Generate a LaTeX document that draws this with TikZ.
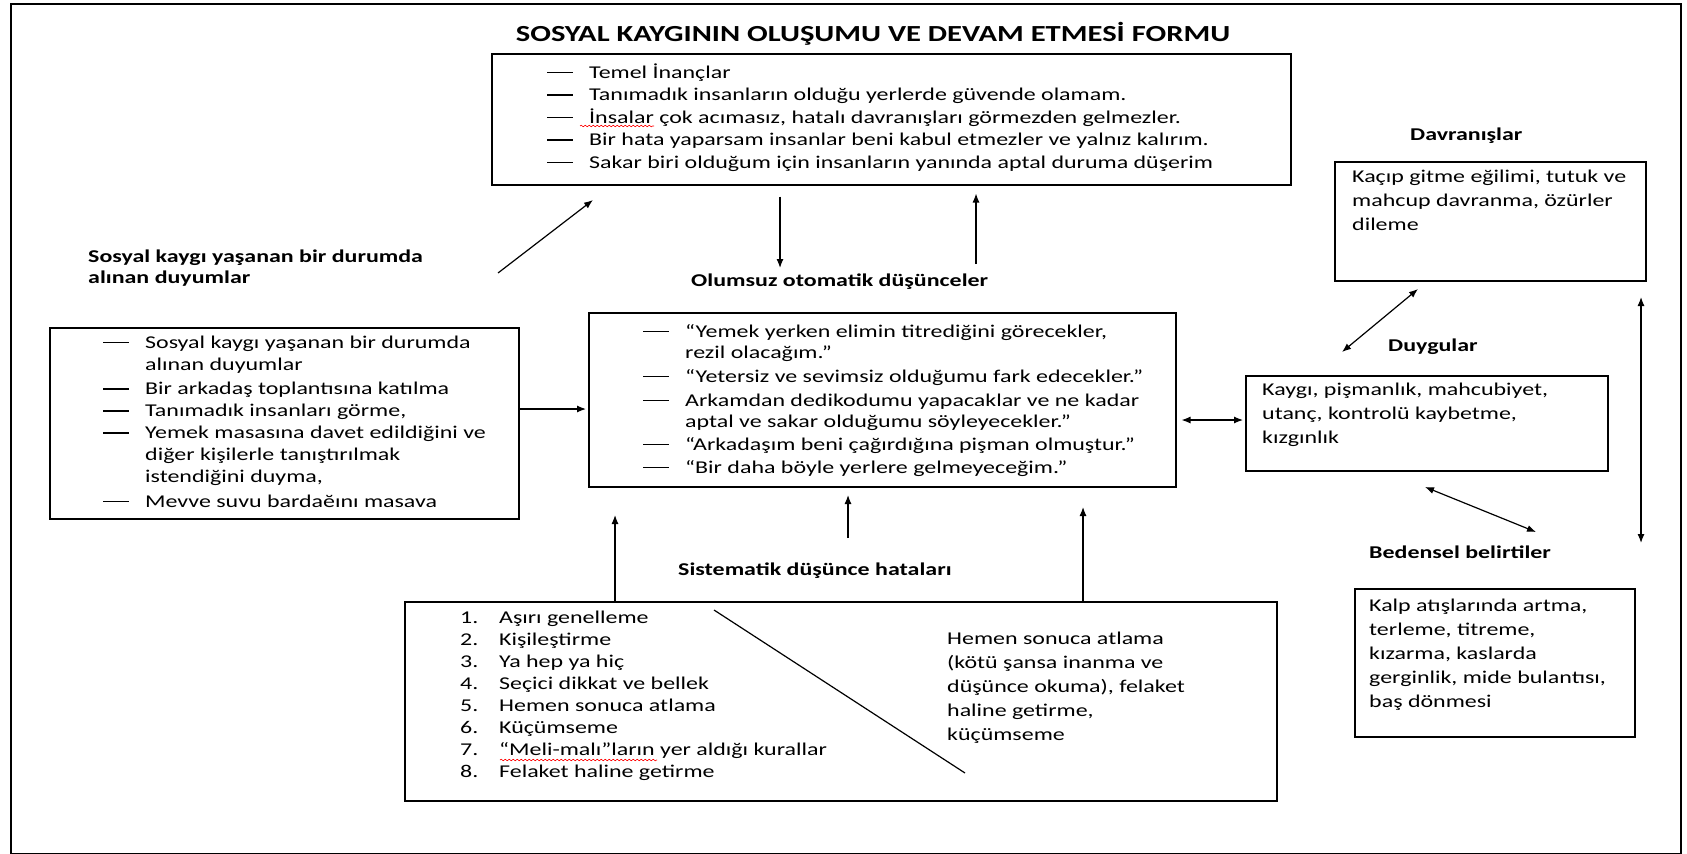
\documentclass[tikz,border=0pt]{standalone}
\usepackage{fontspec}
\setmainfont{Carlito}[FakeStretch=1.33]
\usetikzlibrary{arrows.meta,decorations.pathmorphing}
\newcommand\dsh{\rule[4.8pt]{26pt}{1.6pt}}
\newcommand\num[1]{\makebox[39pt][l]{#1}}

\begin{document}
\begin{tikzpicture}[x=1pt, y=-1pt,
    every node/.style={inner sep=0pt},
    box/.style={draw, line width=1.5pt, anchor=north west},
    txt/.style={anchor=base west, font=\fontsize{18}{22.5}\selectfont},
    wide/.style={anchor=base west, font=\fontsize{18}{24}\selectfont},
    label/.style={anchor=base west, font=\bfseries\fontsize{18}{21}\selectfont},
    arrow/.style={-{Latex[length=9pt,width=7pt]}, line width=1.2pt},
    darrow/.style={{Latex[length=9pt,width=7pt]}-{Latex[length=9pt,width=7pt]}, line width=1.2pt},
    spell/.style={red, line width=0.6pt, decorate, decoration={snake, amplitude=0.8pt, segment length=4pt}}
  ]
  \useasboundingbox (0,0) rectangle (1687,854);
  % Frame and title
  \node[box, line width=1.8pt, minimum width=1670, minimum height=850] (frame) at (10,3) {};
  \node[anchor=base, font=\bfseries\fontsize{23}{26}\selectfont] (title) at (873,41) {SOSYAL KAYGININ OLUŞUMU VE DEVAM ETMESİ FORMU};

  % Boxes
  \node[box, minimum width=799, minimum height=131] (beliefs) at (491,53) {};
  \node[box, minimum width=469, minimum height=191] (situation) at (49,327) {};
  \node[box, minimum width=587, minimum height=174] (thoughts) at (588,312) {};
  \node[box, minimum width=311, minimum height=119] (behaviour) at (1334,161) {};
  \node[box, minimum width=362, minimum height=95] (emotions) at (1245,375) {};
  \node[box, minimum width=280, minimum height=148] (bodily) at (1354,588) {};
  \node[box, minimum width=872, minimum height=199] (errors) at (404,601) {};

  % Box texts
  \node[txt] (beliefs-txt) at (547,78) {\begin{tabular}[t]{@{}l@{\hspace{16pt}}l@{}}
    \dsh & Temel İnançlar\\
    \dsh & Tanımadık insanların olduğu yerlerde güvende olamam.\\
    \dsh & İnsalar çok acımasız, hatalı davranışları görmezden gelmezler.\\
    \dsh & Bir hata yaparsam insanlar beni kabul etmezler ve yalnız kalırım.\\
    \dsh & Sakar biri olduğum için insanların yanında aptal duruma düşerim
  \end{tabular}};
  \node[txt, font=\fontsize{18}{22}\selectfont] (situation-txt) at (103,348) {\begin{tabular}[t]{@{}l@{\hspace{16pt}}l@{}}
    \dsh & Sosyal kaygı yaşanan bir durumda\\
         & alınan duyumlar\\[2.5pt]
    \dsh & Bir arkadaş toplantısına katılma\\
    \dsh & Tanımadık insanları görme,\\
    \dsh & Yemek masasına davet edildiğini ve\\
         & diğer kişilerle tanıştırılmak\\
         & istendiğini duyma,\\[2.5pt]
    \dsh & Mevve suvu bardaĕını masava
  \end{tabular}};
  \node[txt, font=\fontsize{18}{21}\selectfont] (thoughts-txt) at (643,337) {\begin{tabular}[t]{@{}l@{\hspace{16pt}}l@{}}
    \dsh & “Yemek yerken elimin titrediğini görecekler,\\
         & rezil olacağım.”\\[3pt]
    \dsh & “Yetersiz ve sevimsiz olduğumu fark edecekler.”\\[3pt]
    \dsh & Arkamdan dedikodumu yapacaklar ve ne kadar\\
         & aptal ve sakar olduğumu söyleyecekler.”\\[2pt]
    \dsh & “Arkadaşım beni çağırdığına pişman olmuştur.”\\[2pt]
    \dsh & “Bir daha böyle yerlere gelmeyeceğim.”
  \end{tabular}};
  \node[wide] (behaviour-txt) at (1352,182) {\begin{tabular}[t]{@{}l@{}}
    Kaçıp gitme eğilimi, tutuk ve\\ mahcup davranma, özürler\\ dileme
  \end{tabular}};
  \node[wide] (emotions-txt) at (1262,395) {\begin{tabular}[t]{@{}l@{}}
    Kaygı, pişmanlık, mahcubiyet,\\ utanç, kontrolü kaybetme,\\ kızgınlık
  \end{tabular}};
  \node[wide] (bodily-txt) at (1369,611) {\begin{tabular}[t]{@{}l@{}}
    Kalp atışlarında artma,\\ terleme, titreme,\\ kızarma, kaslarda\\ gerginlik, mide bulantısı,\\ baş dönmesi
  \end{tabular}};
  \node[txt, font=\fontsize{18}{22}\selectfont] (errors-txt) at (460,623) {\begin{tabular}[t]{@{}l@{}l@{}}
    \num{1.} & Aşırı genelleme\\
    \num{2.} & Kişileştirme\\
    \num{3.} & Ya hep ya hiç\\
    \num{4.} & Seçici dikkat ve bellek\\
    \num{5.} & Hemen sonuca atlama\\
    \num{6.} & Küçümseme\\
    \num{7.} & “Meli-malı”ların yer aldığı kurallar\\
    \num{8.} & Felaket haline getirme
  \end{tabular}};
  \node[wide] (errors-alt) at (947,644) {\begin{tabular}[t]{@{}l@{}}
    Hemen sonuca atlama\\ (kötü şansa inanma ve\\ düşünce okuma), felaket\\ haline getirme,\\ küçümseme
  \end{tabular}};

  % Headings
  \node[label] (situation-lbl) at (88,262) {\begin{tabular}[t]{@{}l@{}}Sosyal kaygı yaşanan bir durumda\\ alınan duyumlar\end{tabular}};
  \node[label] (thoughts-lbl) at (691,286) {Olumsuz otomatik düşünceler};
  \node[label] (errors-lbl) at (678,575) {Sistematik düşünce hataları};
  \node[label] (behaviour-lbl) at (1410,140) {Davranışlar};
  \node[label] (emotions-lbl) at (1388,351) {Duygular};
  \node[label] (bodily-lbl) at (1369,558) {Bedensel belirtiler};

  % Free ends of arrows
  \coordinate (sit-tail) at (498,273);
  \coordinate (sit-head) at (593,200);
  \coordinate (down-head) at (780,268);
  \coordinate (up-tail) at (976,264);
  \coordinate (y-in) at (0,409);
  \coordinate (y-emo) at (0,420);
  \coordinate (be-a) at (1342,352);
  \coordinate (be-b) at (1418,289);
  \coordinate (eb-a) at (1425,487);
  \coordinate (eb-b) at (1536,532);
  \coordinate (side-a) at (1641,297);
  \coordinate (side-b) at (1641,543);
  \coordinate (err-l) at (615,515);
  \coordinate (err-m1) at (848,538);
  \coordinate (err-m2) at (848,495);
  \coordinate (err-r) at (1083,507);
  \coordinate (cut-a) at (714,610);
  \coordinate (cut-b) at (965,773);

  % Arrows
  \draw[arrow] (sit-tail) -- (sit-head);
  \draw[arrow, shorten <=11pt] (beliefs.south -| down-head) -- (down-head);
  \draw[arrow, shorten >=8pt] (up-tail) -- (beliefs.south -| up-tail);
  \draw[arrow, shorten >=2pt] (situation.east |- y-in) -- (thoughts.west |- y-in);
  \draw[darrow, shorten <=5pt, shorten >=2pt] (thoughts.east |- y-emo) -- (emotions.west |- y-emo);
  \draw[darrow] (be-a) -- (be-b);
  \draw[darrow] (eb-a) -- (eb-b);
  \draw[darrow] (side-a) -- (side-b);
  \draw[arrow] (errors.north -| err-l) -- (err-l);
  \draw[arrow] (err-m1) -- (err-m2);
  \draw[arrow] (errors.north -| err-r) -- (err-r);
  \draw[line width=1.2pt] (cut-a) -- (cut-b);

  % Spelling marks
  \draw[spell] (580,126) -- (654,126);
  \draw[spell] (500,760) -- (657,760);
\end{tikzpicture}
\end{document}
